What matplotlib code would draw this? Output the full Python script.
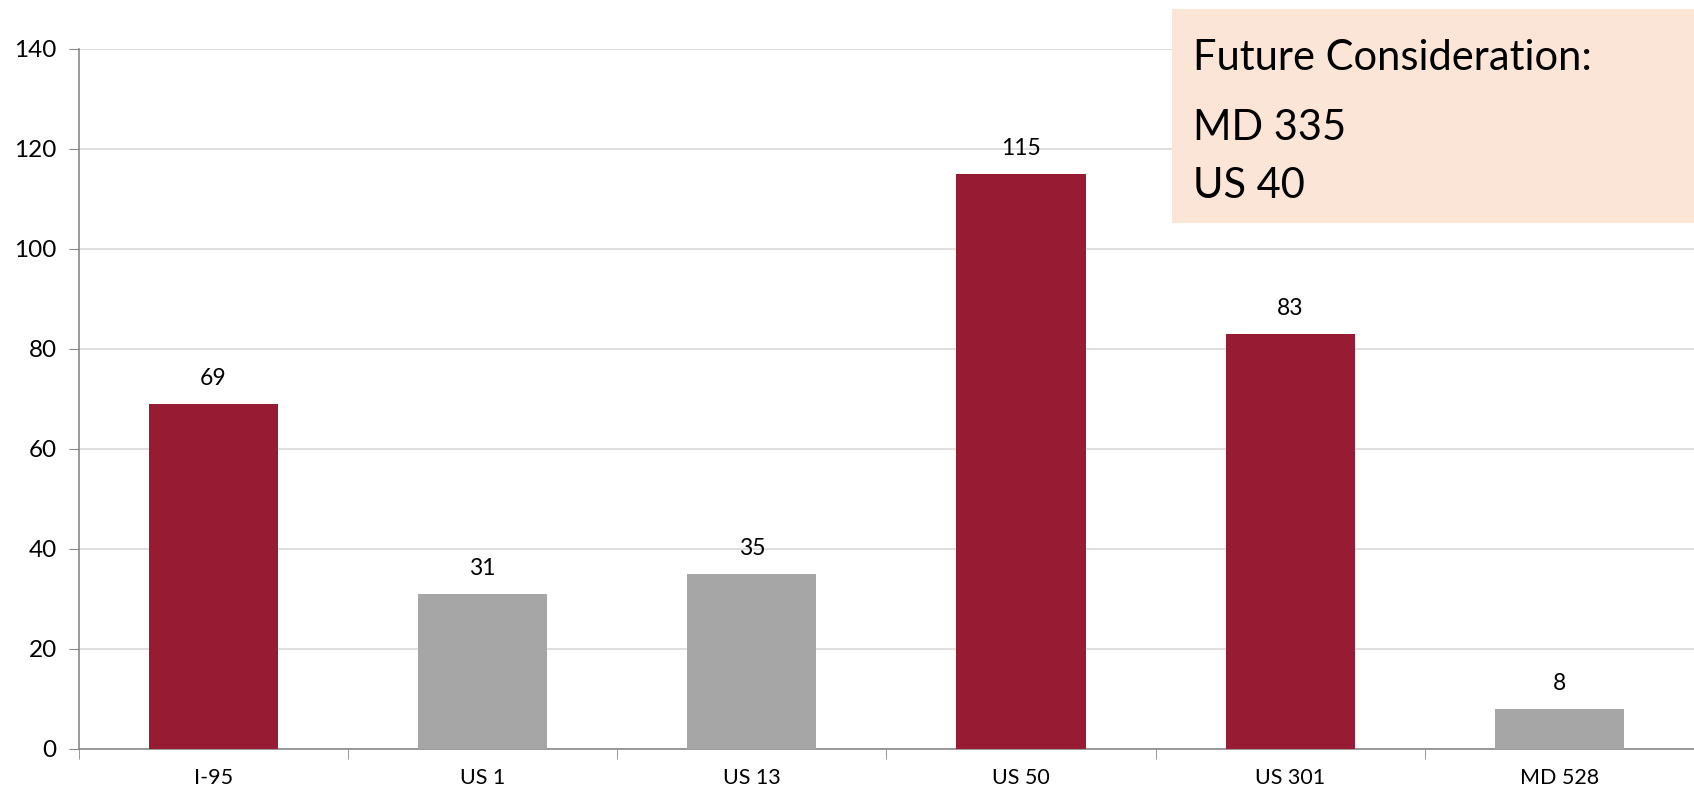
import matplotlib.pyplot as plt
from matplotlib.patches import Rectangle

plt.rcParams['font.family'] = ['Lato', 'DejaVu Sans']

roads = ["I-95", "US 1", "US 13", "US 50", "US 301", "MD 528"]
counts = [69, 31, 35, 115, 83, 8]
highlight = [True, False, False, True, True, False]
future_roads = ["MD 335", "US 40"]

red = "#981B34"
grey = "#A6A6A6"

fig = plt.figure(figsize=(16.94, 8), dpi=100)
ax = fig.add_axes([0.0466, 0.064, 0.9534, 0.875])

colors = [red if h else grey for h in highlight]
x = list(range(len(roads)))
bars = ax.bar(x, counts, width=0.48, color=colors, zorder=3)

for xi, v in zip(x, counts):
    ax.text(xi, v + 3, str(v), ha="center", va="bottom", fontsize=16.5)

ax.set_xlim(-0.5, len(roads) - 0.5)
ax.set_ylim(0, 140)
ax.set_yticks(range(0, 141, 20))
ax.set_xticks(x)
ax.set_xticklabels(roads, fontsize=15.5)
ax.set_xticks([i - 0.5 for i in range(len(roads) + 1)], minor=True)
ax.tick_params(axis="x", which="major", length=0, pad=14)
ax.tick_params(axis="x", which="minor", length=7, color="#898989", direction="out")
ax.tick_params(axis="y", labelsize=17.5, length=7, color="#898989", pad=9)

ax.grid(axis="y", color="#D9D9D9", linewidth=1.2, zorder=0)
for s in ["top", "right"]:
    ax.spines[s].set_visible(False)
for s in ["left", "bottom"]:
    ax.spines[s].set_color("#898989")
    ax.spines[s].set_linewidth(1.2)

# note box in the top right corner
box = Rectangle((0.692, 0.721), 0.31, 0.268, transform=fig.transFigure,
                facecolor="#FBE5D6", edgecolor="none", zorder=10)
fig.patches.append(box)
fig.text(0.704, 0.912, "Future Consideration:", fontsize=30, va="baseline", zorder=11)
fig.text(0.704, 0.825, future_roads[0], fontsize=30, va="baseline", zorder=11)
fig.text(0.704, 0.752, future_roads[1], fontsize=30, va="baseline", zorder=11)

fig.savefig("out.png", dpi=100)
